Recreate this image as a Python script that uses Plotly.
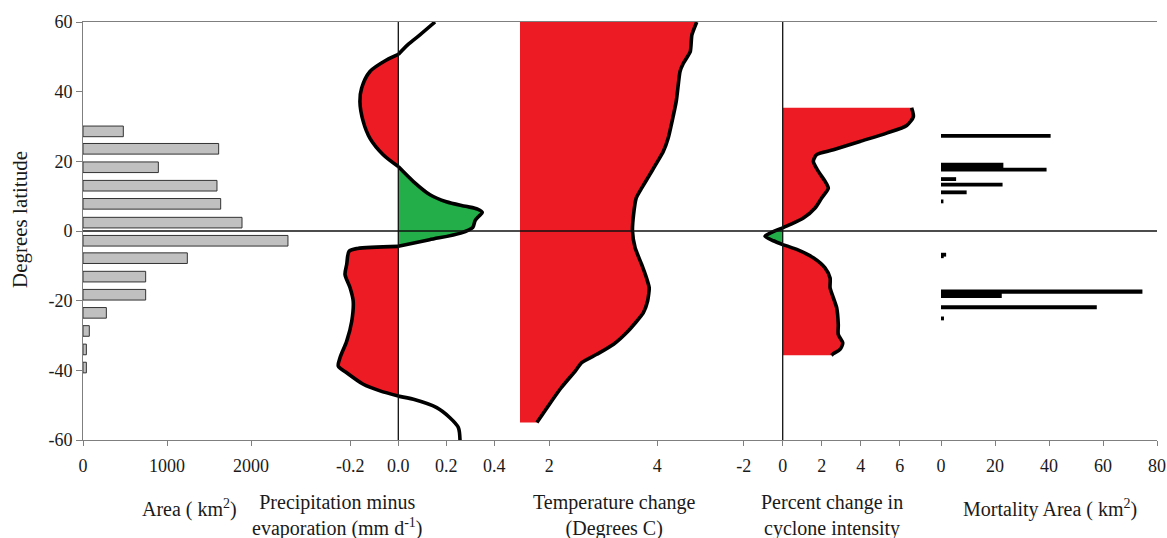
import plotly.graph_objects as go

# ---------------- data ----------------
# Panel 1: reef area per latitude band
AREA_LAT = [28.6, 23.6, 18.3, 13.0, 7.8, 2.4, -2.8, -7.8, -13.1, -18.3, -23.5, -28.7, -34.0, -39.2]
AREA_KM2 = [480, 1615, 897, 1595, 1639, 1893, 2440, 1242, 746, 746, 278, 75, 40, 40]

# Panel 2: precipitation minus evaporation (mm/day)
PE_LAT = [60, 56.3, 53.5, 50.7, 49.1, 45.8, 41.0, 37.2, 31.4, 26.6, 21.9, 18.5,
          14.2, 10.4, 8.4, 7.1, 6.3, 5.3, 4.2, 3.0, 1.0, -0.6, -2.5, -4.4,
          -5.0, -5.8, -9.6, -12.5, -16.3, -20.1, -25.9, -31.6, -36.4, -38.8,
          -40.7, -44.0, -45.9, -47.4,
          -48.3, -50.7, -53.6, -56.4, -60]
PE_VAL = [0.153, 0.09, 0.04, 0.0, -0.049, -0.118, -0.153, -0.160, -0.146, -0.118, -0.063, 0.0,
          0.063, 0.132, 0.20, 0.28, 0.33, 0.35, 0.335, 0.32, 0.31, 0.26, 0.13, 0.0,
          -0.17, -0.205, -0.215, -0.222, -0.201, -0.188, -0.194, -0.215, -0.243, -0.25,
          -0.215, -0.146, -0.076, 0.0,
          0.063, 0.160, 0.215, 0.25, 0.257]

# Panel 3: temperature change (deg C)
TEMP_LAT = [60, 56.3, 51.5, 48.1, 45.8, 37.2, 26.6, 22.8, 16.2, 12.3, 9.5, 4.7, 0,
            -4.9, -9.6, -13.5, -16.3, -20.1, -23.5, -28.7, -32.5, -35.4, -37.8,
            -40.2, -45.0, -50.0, -55.0]
TEMP_VAL = [4.73, 4.64, 4.61, 4.48, 4.42, 4.35, 4.20, 4.11, 3.86, 3.71, 3.61, 3.56, 3.54,
            3.59, 3.71, 3.80, 3.85, 3.82, 3.74, 3.46, 3.19, 2.88, 2.60,
            2.48, 2.22, 1.99, 1.77]

# Panel 4: percent change in cyclone intensity
CYC_LAT = [35.4, 32.8, 30.3, 28.1, 25.7, 23.3, 21.9, 20.0, 17.1, 14.3, 12.3, 9.5, 6.6, 3.7, 1.8, 0.9,
           -0.6, -1.5, -2.8, -3.9,
           -5.3, -7.7, -10.6, -13.5, -16.3, -19.2, -22.1, -26.8, -29.7, -32.1, -34.0, -35.2, -35.7]
CYC_VAL = [6.61, 6.70, 6.36, 5.33, 3.96, 2.60, 1.74, 1.57, 1.83, 2.17, 2.34, 2.0, 1.66, 1.06, 0.37, 0.0,
           -0.65, -0.91, -0.48, 0.0,
           0.72, 1.57, 2.17, 2.43, 2.43, 2.60, 2.77, 2.85, 2.85, 3.08, 2.94, 2.60, 2.50]

# Panel 5: mortality area
MORT_LAT = [27.3, 18.6, 17.6, 14.9, 13.3, 11.1, 8.5, -6.8, -7.3, -17.4, -18.3, -21.9, -25.1]
MORT_KM2 = [40.6, 23.1, 39.1, 5.6, 22.8, 9.5, 0.9, 1.9, 1.0, 74.6, 22.5, 57.7, 1.1]

# tick values and labels
LAT_TICKS = [-60, -40, -20, 0, 20, 40, 60]
LAT_TICKTEXT = ["-60", "-40", "-20", "0", "20", "40", "60"]
AREA_TICKS = [0, 1000, 2000]
AREA_TICKTEXT = ["0", "1000", "2000"]
PE_TICKS = [-0.2, 0.0, 0.2, 0.4]
PE_TICKTEXT = ["-0.2", "0.0", "0.2", "0.4"]
TEMP_TICKS = [2, 4]
TEMP_TICKTEXT = ["2", "4"]
CYC_TICKS = [-2, 0, 2, 4, 6]
CYC_TICKTEXT = ["-2", "0", "2", "4", "6"]
MORT_TICKS = [0, 20, 40, 60, 80]
MORT_TICKTEXT = ["0", "20", "40", "60", "80"]

# ---------------- styles ----------------
RED = "#ED1C24"
GREEN = "#23AE49"
BAR_GREY = "#C0C0C0"
FRAME = "#7F7F7F"
FONT = "Liberation Serif, Times New Roman, serif"
PE_FILLS = [None, RED, GREEN, RED, None]
CYC_FILLS = [RED, GREEN, RED]
MORT_BAR_WIDTH = [1.1, 2.0, 1.1, 1.1, 1.1, 1.1, 1.1, 1.1, 1.0, 1.2, 1.8, 1.1, 1.1]
CURVE_W = 3.6

# pixel layout helpers
W, H = 1167, 538
L, R, T, B = 83, 10, 22, 98
PW, PH = W - L - R, H - T - B


def fx(px):
    return (px - L) / PW


def fy(py):
    return (H - B - py) / PH


def split_at_zero(lat, val):
    segs = []
    cl, cv = [lat[0]], [val[0]]
    for la, v in zip(lat[1:], val[1:]):
        cl.append(la)
        cv.append(v)
        if v == 0:
            segs.append((cl, cv))
            cl, cv = [la], [v]
    if len(cl) > 1:
        segs.append((cl, cv))
    return segs


fig = go.Figure()

# Panel 1 bars
fig.add_trace(go.Bar(x=AREA_KM2, y=AREA_LAT, orientation="h", width=3.05,
                     marker=dict(color=BAR_GREY, line=dict(color="#333333", width=1)),
                     xaxis="x", yaxis="y", showlegend=False))

# Panel 2 P-E curve with fills
for (sl, sv), fc in zip(split_at_zero(PE_LAT, PE_VAL), PE_FILLS):
    fig.add_trace(go.Scatter(x=sv, y=sl, mode="lines",
                             line=dict(color="black", width=CURVE_W, shape="spline", smoothing=0.8),
                             fill="tozerox" if fc else "none", fillcolor=fc,
                             xaxis="x2", yaxis="y", showlegend=False))

# Panel 3 temperature
fig.add_trace(go.Scatter(x=TEMP_VAL, y=TEMP_LAT, mode="lines",
                         line=dict(color="black", width=CURVE_W, shape="spline", smoothing=0.5),
                         fill="tozerox", fillcolor=RED,
                         xaxis="x3", yaxis="y", showlegend=False))

# Panel 4 cyclone
for (sl, sv), fc in zip(split_at_zero(CYC_LAT, CYC_VAL), CYC_FILLS):
    fig.add_trace(go.Scatter(x=sv, y=sl, mode="lines",
                             line=dict(color="black", width=CURVE_W, shape="spline", smoothing=0.7),
                             fill="tozerox", fillcolor=fc,
                             xaxis="x4", yaxis="y", showlegend=False))

# Panel 5 mortality bars
fig.add_trace(go.Bar(x=MORT_KM2, y=MORT_LAT, orientation="h", width=MORT_BAR_WIDTH,
                     marker=dict(color="black", line=dict(width=0)),
                     xaxis="x5", yaxis="y", showlegend=False))

# ---------------- axes ----------------
tickfont = dict(family=FONT, size=18, color="#1a1a1a")
edges = [L, 326.6, 520, 733.7, 941, W - R]
common_x = dict(showgrid=False, zeroline=False, showline=True, linecolor=FRAME, linewidth=1,
                mirror=True, ticks="outside", ticklen=5, tickcolor=FRAME, tickfont=tickfont,
                ticklabelstandoff=4, fixedrange=True, automargin=False)
extra_y = dict(overlaying="y", range=[-60, 60], showline=True, linecolor=FRAME, linewidth=1,
               showticklabels=False, ticks="", showgrid=False, zeroline=False, automargin=False)


def dom(i):
    return [fx(edges[i]), fx(edges[i + 1])]


fig.update_layout(
    xaxis=dict(domain=dom(0), range=[0, 2900], tickvals=AREA_TICKS, ticktext=AREA_TICKTEXT,
               anchor="y", **common_x),
    xaxis2=dict(domain=dom(1), range=[-0.2988, 0.507], tickvals=PE_TICKS, ticktext=PE_TICKTEXT,
                anchor="y", **common_x),
    xaxis3=dict(domain=dom(2), range=[1.457, 5.414], tickvals=TEMP_TICKS, ticktext=TEMP_TICKTEXT,
                anchor="y", **common_x),
    xaxis4=dict(domain=dom(3), range=[-2.513, 8.118], tickvals=CYC_TICKS, ticktext=CYC_TICKTEXT,
                anchor="y", **common_x),
    xaxis5=dict(domain=dom(4), range=[0, 80], tickvals=MORT_TICKS, ticktext=MORT_TICKTEXT,
                anchor="y", **common_x),
    yaxis=dict(domain=[0, 1], range=[-60, 60], tickvals=LAT_TICKS, ticktext=LAT_TICKTEXT,
               anchor="x", showgrid=False, zeroline=False, showline=True, linecolor=FRAME,
               linewidth=1, ticks="outside", ticklen=6, tickcolor=FRAME, tickfont=tickfont,
               fixedrange=True, automargin=False),
    yaxis2=dict(anchor="x3", side="left", **extra_y),
    yaxis3=dict(anchor="x5", side="left", **extra_y),
    yaxis4=dict(anchor="x5", side="right", **extra_y),
    barmode="overlay",
    autosize=False,
    width=W, height=H,
    margin=dict(l=L, r=R, t=T, b=B, pad=0, autoexpand=False),
    paper_bgcolor="white", plot_bgcolor="white",
    font=dict(family=FONT, color="#1a1a1a"),
)

# reference lines: latitude 0 across all panels, zero of P-E and cyclone panels
fig.add_shape(type="line", xref="paper", yref="y", x0=0, x1=1, y0=0, y1=0,
              line=dict(color="#111111", width=1.5), layer="above")
fig.add_shape(type="line", xref="x2", yref="paper", x0=0, x1=0, y0=0, y1=1,
              line=dict(color="#111111", width=1.3), layer="above")
fig.add_shape(type="line", xref="x4", yref="paper", x0=0, x1=0, y0=0, y1=1,
              line=dict(color="#111111", width=1.3), layer="above")

# titles
tfont = dict(family=FONT, size=20, color="#1a1a1a")
fig.add_annotation(text="Area ( km<sup>2</sup>)", xref="paper", yref="paper",
                   x=fx(189), y=fy(508), xanchor="center", yanchor="middle",
                   showarrow=False, font=tfont)
fig.add_annotation(text="Precipitation minus<br>evaporation (mm d<sup>-1</sup>)", xref="paper",
                   yref="paper", x=fx(337), y=fy(489), xanchor="center", yanchor="top",
                   align="center", showarrow=False, font=tfont)
fig.add_annotation(text="Temperature change<br>(Degrees C)", xref="paper", yref="paper",
                   x=fx(614), y=fy(489), xanchor="center", yanchor="top", align="center",
                   showarrow=False, font=tfont)
fig.add_annotation(text="Percent change in<br>cyclone intensity", xref="paper", yref="paper",
                   x=fx(832), y=fy(489), xanchor="center", yanchor="top", align="center",
                   showarrow=False, font=tfont)
fig.add_annotation(text="Mortality Area ( km<sup>2</sup>)", xref="paper", yref="paper",
                   x=fx(1050), y=fy(508), xanchor="center", yanchor="middle",
                   showarrow=False, font=tfont)
fig.add_annotation(text="Degrees latitude", xref="paper", yref="paper",
                   x=fx(20), y=fy(220), xanchor="center", yanchor="middle", textangle=-90,
                   showarrow=False, font=dict(family=FONT, size=21, color="#1a1a1a"))

fig.write_html(
    "out.html",
    config={"displayModeBar": False, "responsive": False},
    post_script=(
        "document.documentElement.style.overflow='hidden';"
        "document.body.style.margin='0';document.body.style.overflow='hidden';"
        "var gd=document.getElementById('{plot_id}');"
        "Plotly.relayout(gd,{width:%d,height:%d});" % (W, H)
    ),
)
